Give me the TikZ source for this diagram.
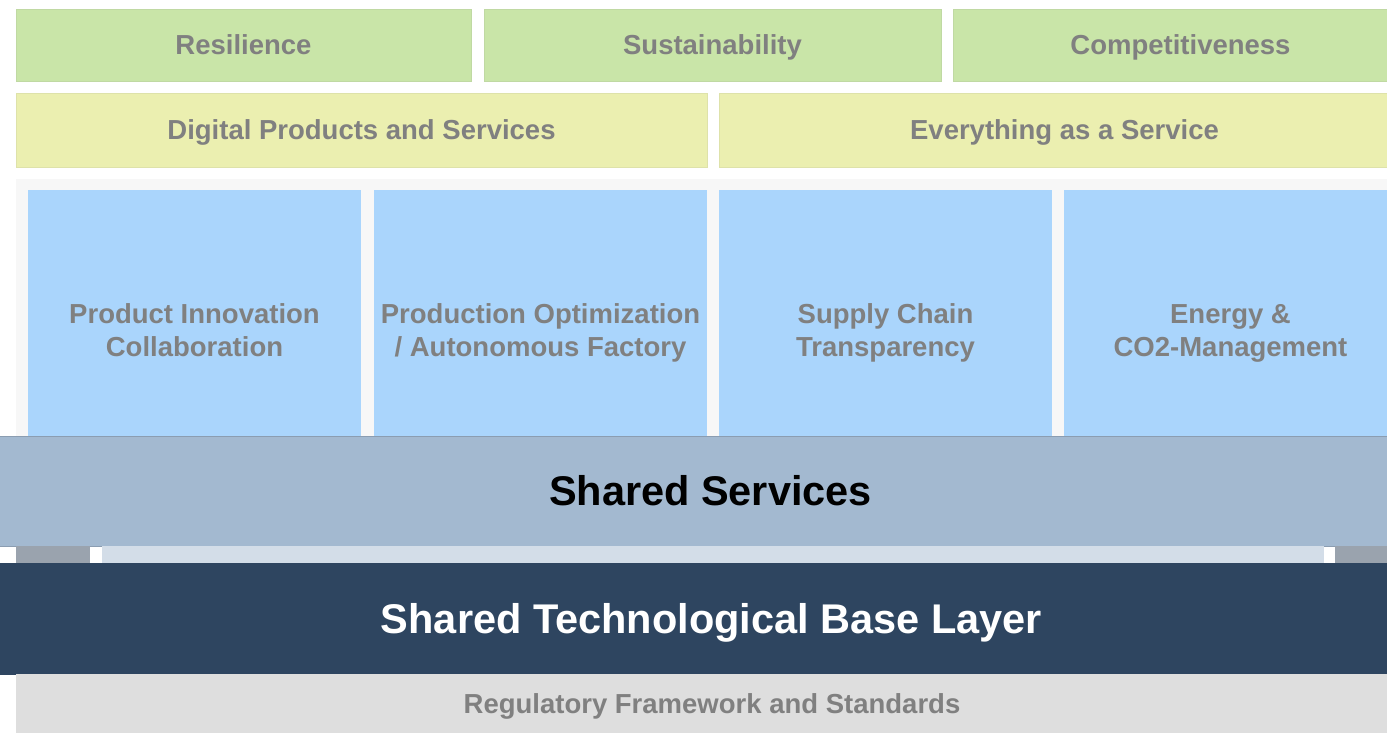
\documentclass[tikz,border=0pt]{standalone}
\usepackage{fontspec}
\setmainfont{Liberation Sans}
\definecolor{cgreen}{HTML}{C9E5A8}
\definecolor{cyellow}{HTML}{EBEFB0}
\definecolor{cbg}{HTML}{F7F7F7}
\definecolor{cblue}{HTML}{AAD5FC}
\definecolor{cshared}{HTML}{A3B9D0}
\definecolor{cgraybar}{HTML}{9AA3AE}
\definecolor{clightbar}{HTML}{D3DDE8}
\definecolor{cdark}{HTML}{2E4560}
\definecolor{creg}{HTML}{DEDEDE}
\definecolor{ctext}{HTML}{808080}
\begin{document}
\begin{tikzpicture}[x=1pt,y=-1pt,
  box/.style={inner sep=0pt, outer sep=0pt, anchor=north west, align=center,
    font=\fontsize{27.5}{33}\selectfont\bfseries, text=ctext,
    text height=19.7pt, text depth=0pt},
  twoline/.style={box, text height=52.7pt},
  bigbox/.style={box, font=\fontsize{41.5}{48}\selectfont\bfseries, text height=29.7pt}]
\useasboundingbox (0,0) rectangle (1387,732);
\clip (0,0) rectangle (1387,732);
% row 1
\node[box, fill=cgreen, draw=cgreen!88!gray, line width=0.5pt, minimum width=455pt, minimum height=72pt] (res) at (16,9) {Resilience};
\node[box, fill=cgreen, draw=cgreen!88!gray, line width=0.5pt, minimum width=457pt, minimum height=72pt] (sus) at (484,9) {Sustainability};
\node[box, fill=cgreen, draw=cgreen!88!gray, line width=0.5pt, minimum width=455pt, minimum height=72pt] (com) at (953,9) {Competitiveness};
% row 2
\node[box, fill=cyellow, draw=cyellow!88!gray, line width=0.5pt, minimum width=691pt, minimum height=74pt] (dps) at (16,93) {Digital Products and Services};
\node[box, fill=cyellow, draw=cyellow!88!gray, line width=0.5pt, minimum width=691pt, minimum height=74pt] (eaas) at (719,93) {Everything as a Service};
% background panel
\node[box, fill=cbg, minimum width=1392pt, minimum height=260pt] (panel) at (16,179) {};
% blue columns
\node[twoline, fill=cblue, minimum width=333pt, minimum height=280pt] (pic) at (28,190) {Product Innovation\\Collaboration};
\node[twoline, fill=cblue, minimum width=333pt, minimum height=280pt] (poa) at (374,190) {Production Optimization\\/ Autonomous Factory};
\node[twoline, fill=cblue, minimum width=333pt, minimum height=280pt] (sct) at (719,190) {Supply Chain\\Transparency};
\node[twoline, fill=cblue, minimum width=333pt, minimum height=280pt] (eco) at (1064,190) {Energy \&\\CO2-Management};
% shared services
\node[bigbox, fill=cshared, draw=cshared!85!black, line width=0.6pt, text=black, minimum width=1425pt, minimum height=110pt] (ss) at (-2,436) {Shared Services};
% connector bars
\node[box, fill=cgraybar, minimum width=74pt, minimum height=17pt] (gl) at (16,546) {};
\node[box, fill=clightbar, minimum width=1222pt, minimum height=17pt] (lb) at (102,546) {};
\node[box, fill=cgraybar, minimum width=52pt, minimum height=17pt] (gr) at (1335,546) {};
% base layer
\node[bigbox, fill=cdark, text=white, minimum width=1423pt, minimum height=112pt] (base) at (0,563) {Shared Technological Base Layer};
% regulatory
\node[box, fill=creg, minimum width=1392pt, minimum height=60pt] (reg) at (16,674) {Regulatory Framework and Standards};
\end{tikzpicture}
\end{document}
